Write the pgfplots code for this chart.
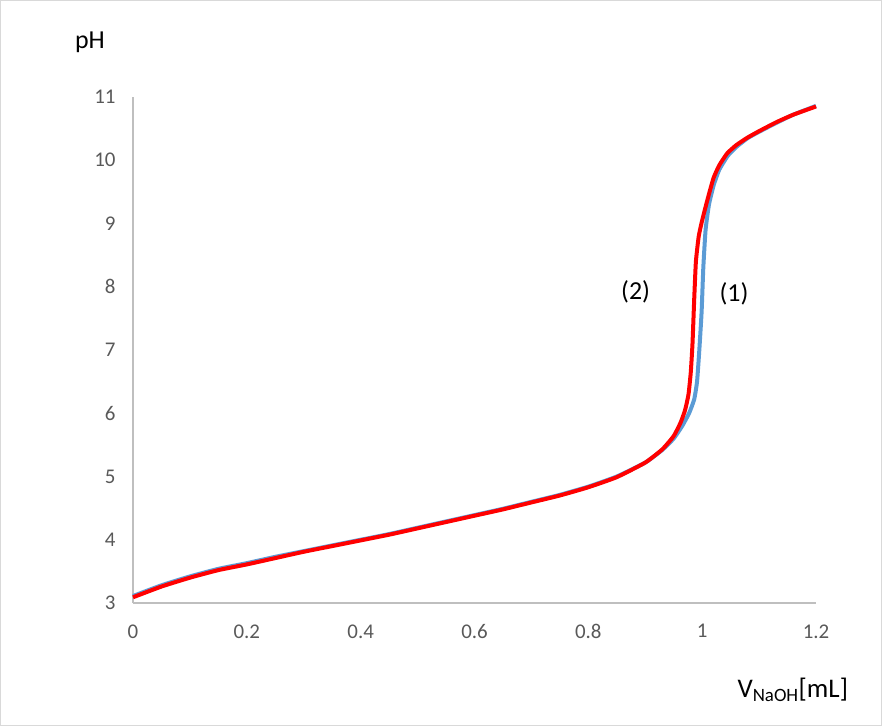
\documentclass[border=0pt]{standalone}
\usepackage{pgfplots}
\pgfplotsset{compat=1.18}
\usepackage{fontspec}
\setmainfont{Carlito}
\definecolor{axgray}{HTML}{BFBFBF}
\definecolor{tickgray}{HTML}{595959}
\definecolor{frame}{HTML}{D9D9D9}
\definecolor{xlblue}{HTML}{5B9BD5}
\begin{document}
\begin{tikzpicture}
\begin{axis}[
  scale only axis,
  width=683bp, height=506bp,
  xmin=0, xmax=1.2, ymin=3, ymax=11,
  axis lines=left,
  axis line style={-, draw=axgray, line width=1.5bp},
  xtick={0,0.2,0.4,0.6,0.8,1,1.2},
  ytick={3,4,5,6,7,8,9,10,11},
  major tick length=0pt,
  xticklabels={0,0.2,0.4,0.6,0.8,1,1.2},
  /pgf/number format/assume math mode=true,
  tick label style={font=\fontsize{21}{25}\selectfont, text=tickgray},
  xticklabel style={yshift=-18bp},
  yticklabel style={xshift=-14bp},
  clip=false,
]
\addplot[xlblue, line width=4bp, smooth, tension=0.3] coordinates {
(0,3.11) (0.05,3.28) (0.1,3.42) (0.15,3.54) (0.2,3.63) (0.25,3.73) (0.3,3.82)
(0.35,3.91) (0.4,4.00) (0.45,4.09) (0.5,4.19) (0.55,4.29) (0.6,4.39) (0.65,4.49)
(0.7,4.60) (0.75,4.71) (0.8,4.84) (0.85,5.00) (0.9,5.22) (0.93,5.42) (0.95,5.60)
(0.965,5.80) (0.977,6.00) (0.986,6.22) (0.991,6.50) (0.995,7.0) (0.999,7.6) (1.002,8.3)
(1.006,8.9) (1.012,9.3) (1.02,9.6) (1.03,9.85) (1.045,10.07) (1.06,10.21)
(1.08,10.35) (1.1,10.45) (1.13,10.59) (1.16,10.72) (1.2,10.86)
};
\addplot[red, line width=4bp, smooth, tension=0.3] coordinates {
(0,3.09) (0.05,3.26) (0.1,3.40) (0.15,3.52) (0.2,3.61) (0.25,3.71) (0.3,3.81)
(0.35,3.90) (0.4,3.99) (0.45,4.08) (0.5,4.18) (0.55,4.28) (0.6,4.38) (0.65,4.48)
(0.7,4.59) (0.75,4.70) (0.8,4.83) (0.85,4.99) (0.9,5.22) (0.93,5.43) (0.95,5.64)
(0.962,5.85) (0.97,6.05) (0.976,6.30) (0.98,6.65) (0.983,7.1) (0.986,7.8) (0.989,8.4) (0.994,8.8)
(1.0,9.05) (1.01,9.4) (1.02,9.72) (1.03,9.92) (1.044,10.11) (1.06,10.24)
(1.08,10.36) (1.1,10.46) (1.13,10.60) (1.16,10.72) (1.2,10.85)
};
\node[font=\fontsize{26}{30}\selectfont] at (axis cs:0.883,7.92) {(2)};
\node[font=\fontsize{26}{30}\selectfont] at (axis cs:1.056,7.89) {(1)};
\node[font=\fontsize{26}{30}\selectfont] at ([shift={(-43bp,55bp)}]rel axis cs:0,1) {pH};
\node[font=\fontsize{27}{30}\selectfont] at ([shift={(0bp,-87bp)}]rel axis cs:0.966,0) {V\textsubscript{NaOH}[mL]};
\coordinate (SW) at (rel axis cs:0,0);
\end{axis}
\draw[frame, line width=1bp] ([shift={(-132.5bp,-122.5bp)}]SW) rectangle ([shift={(748.5bp,602.5bp)}]SW);
\end{tikzpicture}
\end{document}
